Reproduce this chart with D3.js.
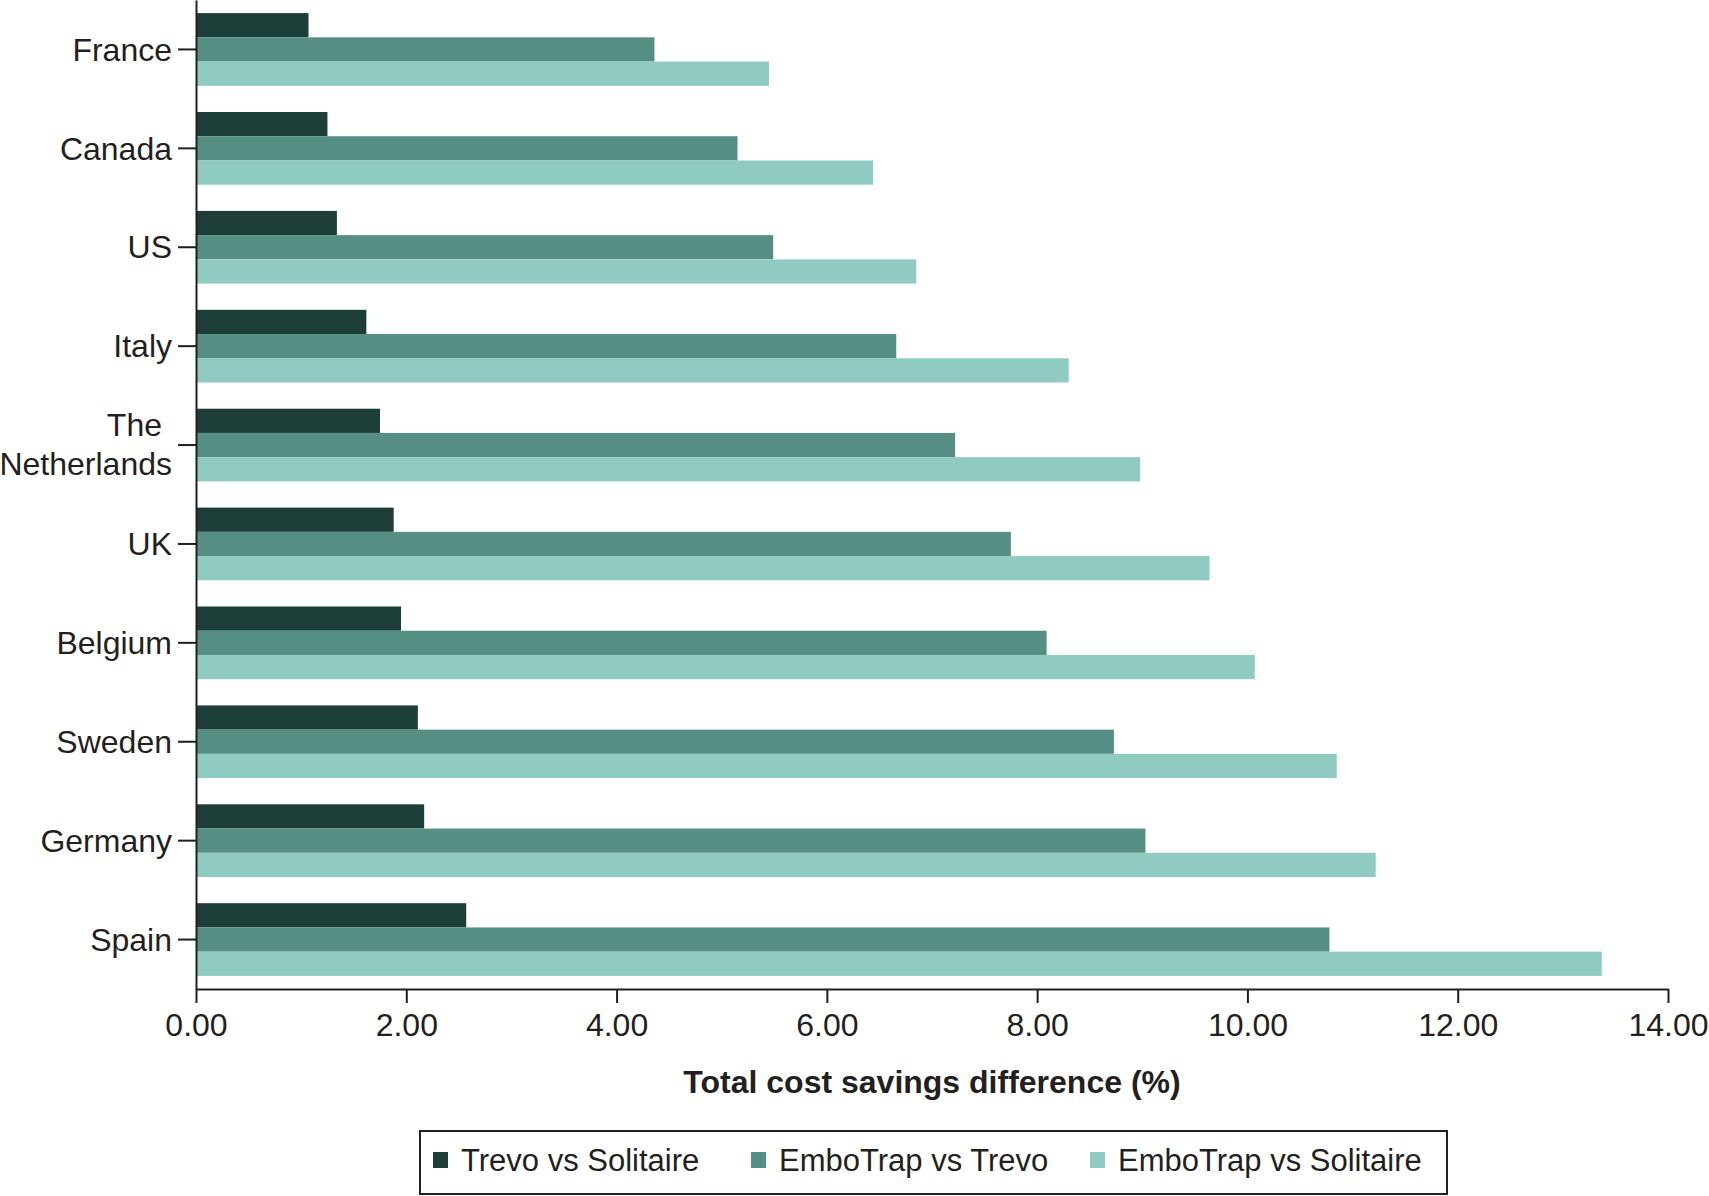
<!DOCTYPE html>
<html>
<head>
<meta charset="utf-8">
<script src="https://cdn.jsdelivr.net/npm/d3@7"></script>
<style>
body{margin:0;background:#fff;}
text{font-family:"Liberation Sans",Arial,sans-serif;fill:#231f20;}
</style>
</head>
<body>
<div class="bod"></div>
<script>
//data
const countries = ['France','Canada','US','Italy','The Netherlands','UK','Belgium','Sweden','Germany','Spain']
const seriesNames = ['Trevo vs Solitaire','EmboTrap vs Trevo','EmboTrap vs Solitaire']
const trevoVsSolitaire = [1.07,1.25,1.34,1.62,1.75,1.88,1.95,2.11,2.17,2.57]
const emboVsTrevo = [4.36,5.15,5.49,6.66,7.22,7.75,8.09,8.73,9.03,10.78]
const emboVsSolitaire = [5.45,6.44,6.85,8.30,8.98,9.64,10.07,10.85,11.22,13.37]
const xTicks = [0,2,4,6,8,10,12,14]
const colors = ['#1d3d38','#558e83','#8fcbc0']

let size = {width:1709,height:1196,left:196,right:1668,top:0,bottom:989}

let rows = countries.map((c,i)=>({country:c,values:[trevoVsSolitaire[i],emboVsTrevo[i],emboVsSolitaire[i]]}))

const svg = d3.select('.bod')
  .append('svg')
  .attr('width',size.width)
  .attr('height',size.height)

//scales
let x = d3.scaleLinear().domain([0,14]).range([size.left,size.right])
let y = d3.scaleBand().domain(countries).range([size.top,size.bottom]).paddingInner(0.265).paddingOuter(0.1325)
let ySub = d3.scaleBand().domain(d3.range(3)).range([0,y.bandwidth()])

//bars
let groups = svg.selectAll('g.row')
  .data(rows)
  .enter()
  .append('g')
  .attr('class','row')
  .attr('transform',d=>`translate(0,${y(d.country)})`)

groups.selectAll('rect')
  .data(d=>d.values)
  .enter()
  .append('rect')
  .attr('x',x(0))
  .attr('y',(d,i)=>ySub(i))
  .attr('width',d=>x(d)-x(0))
  .attr('height',ySub.bandwidth())
  .attr('fill',(d,i)=>colors[i])

//x axis
let xAxis = svg.append('g')
  .attr('transform',`translate(0,${size.bottom})`)
  .call(d3.axisBottom(x).tickValues(xTicks).tickFormat(d3.format('.2f')).tickSize(14).tickPadding(10).tickSizeOuter(0))
xAxis.selectAll('text').style('font-size','32px').attr('fill','#231f20')

//y axis
let yAxis = svg.append('g')
  .attr('transform',`translate(${size.left},0)`)
  .call(d3.axisLeft(y).tickSize(18).tickPadding(6).tickSizeOuter(0))
yAxis.selectAll('text').remove()
yAxis.selectAll('.tick').each(function(d){
  let lines = d=='The Netherlands' ? ['The','Netherlands'] : [d]
  let t = d3.select(this).append('text')
    .attr('text-anchor','end')
    .style('font-size','32px')
    .attr('fill','#231f20')
  lines.forEach((l,i)=>{
    t.append('tspan')
      .attr('x',lines.length>1 && i==0 ? -34 : -24)
      .attr('dy',i==0 ? (0.35-(lines.length-1)*0.62)+'em' : '1.2em')
      .text(l)
  })
})

svg.selectAll('.domain').attr('stroke','#231f20').attr('stroke-width',2)
svg.selectAll('.tick line').attr('stroke','#231f20').attr('stroke-width',2)

//axis title
svg.append('text')
  .attr('x',(size.left+size.right)/2)
  .attr('y',1093)
  .attr('text-anchor','middle')
  .style('font-size','32px')
  .style('font-weight','bold')
  .text('Total cost savings difference (%)')

//legend
let legend = svg.append('g')
legend.append('rect')
  .attr('x',420).attr('y',1131)
  .attr('width',1027).attr('height',63)
  .attr('fill','none').attr('stroke','#231f20').attr('stroke-width',2)

let legX = [433,751,1090]
let items = legend.selectAll('g.item')
  .data(seriesNames)
  .enter()
  .append('g')
  .attr('class','item')
  .attr('transform',(d,i)=>`translate(${legX[i]},1160)`)
items.append('rect')
  .attr('x',0).attr('y',-8)
  .attr('width',15).attr('height',16)
  .attr('fill',(d,i)=>colors[i])
items.append('text')
  .attr('x',28)
  .attr('dy','0.35em')
  .style('font-size','31px')
  .text(d=>d)
</script>
</body>
</html>
